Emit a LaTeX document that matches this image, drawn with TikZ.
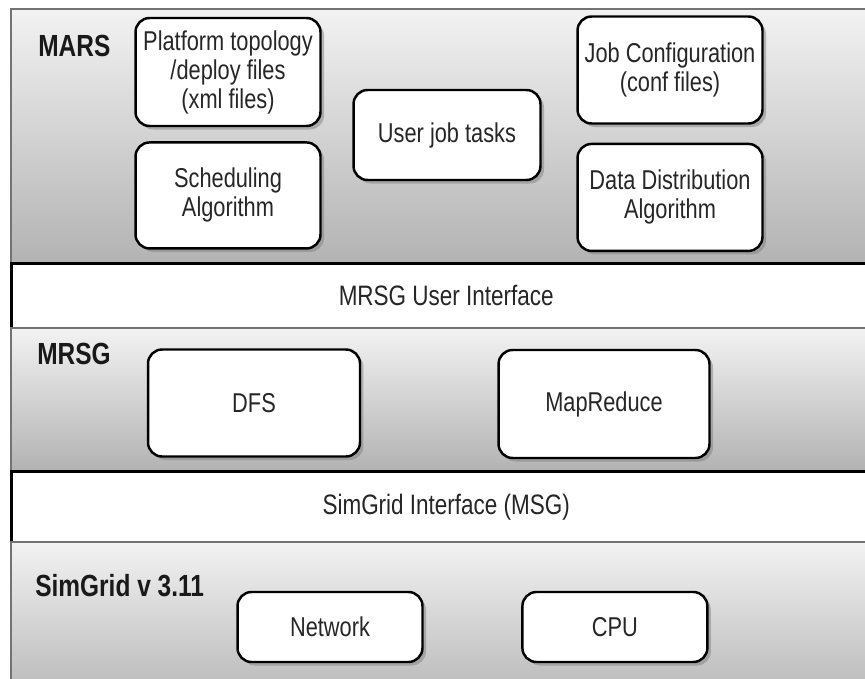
\documentclass[tikz,border=0pt]{standalone}
\usepackage{fontspec}
\setmainfont[FakeStretch=0.8]{Liberation Sans}
\usepackage{tikz}
\usetikzlibrary{positioning,shadows}

\tikzset{
  layer/.style={draw=black!55, line width=1.2pt, top color=black!5, bottom color=black!30, anchor=north west, inner sep=0pt, minimum width=17.4cm},
  bar/.style={draw=black, line width=1.5pt, fill=white, anchor=north west, inner sep=0pt, minimum width=17.4cm, text=black!85, font=\fontsize{16}{16}\selectfont},
  comp/.style={draw=black, line width=1.4pt, fill=white, rounded corners=8pt, align=center, minimum width=3.7cm, text=black!85, font=\fontsize{15.5}{16.5}\selectfont, drop shadow={shadow xshift=2pt, shadow yshift=-2pt, opacity=0.5}},
  lyrname/.style={anchor=west, inner sep=0pt, text=black!90, font=\bfseries\fontsize{17.4}{17.4}\selectfont}
}

\begin{document}
\begin{tikzpicture}[x=0.02cm, y=-0.02cm]
\useasboundingbox (0,0) rectangle (865,679);
\clip (0,0) rectangle (865,679);
% layers and interfaces
\node[layer, minimum height=5.08cm] (marsL) at (10,8) {};
\node[bar, minimum height=1.3cm] (mrsgui) at (10,262) {MRSG User Interface};
\node[layer, minimum height=2.86cm] (mrsgL) at (10,327) {};
\node[bar, minimum height=1.42cm] (msgui) at (10,470) {SimGrid Interface (MSG)};
\node[layer, minimum height=3.4cm] (simgridL) at (10,541) {};
\node[lyrname] (marsT) at (38,46) {MARS};
\node[lyrname] (mrsgT) at (37,354) {MRSG};
\node[lyrname] (simgridT) at (35,586) {SimGrid v 3.11};
%
\node[comp, minimum height=2.16cm] (plat) at (228,72) {Platform topology\\/deploy files\\(xml files)};
\node[comp, minimum height=2.12cm, below=0.28cm of plat] (sched) {Scheduling\\Algorithm};
\node[comp, minimum width=3.74cm, minimum height=1.8cm] (usertask) at (447,135) {User job tasks};
\node[comp, minimum height=2.14cm] (jobconf) at (670,70) {Job Configuration\\(conf files)};
\node[comp, minimum height=2.14cm, below=0.36cm of jobconf] (datadist) {Data Distribution\\Algorithm};
%
\node[comp, minimum width=4.24cm, minimum height=2.14cm] (dfs) at (254,403) {DFS};
\node[comp, minimum width=4.22cm, minimum height=2.16cm] (mapred) at (604,404) {MapReduce};
%
\node[comp, minimum height=1.4cm] (network) at (330,627) {Network};
\node[comp, minimum height=1.4cm, right=1.95cm of network] (cpu) {CPU};
\end{tikzpicture}
\end{document}
